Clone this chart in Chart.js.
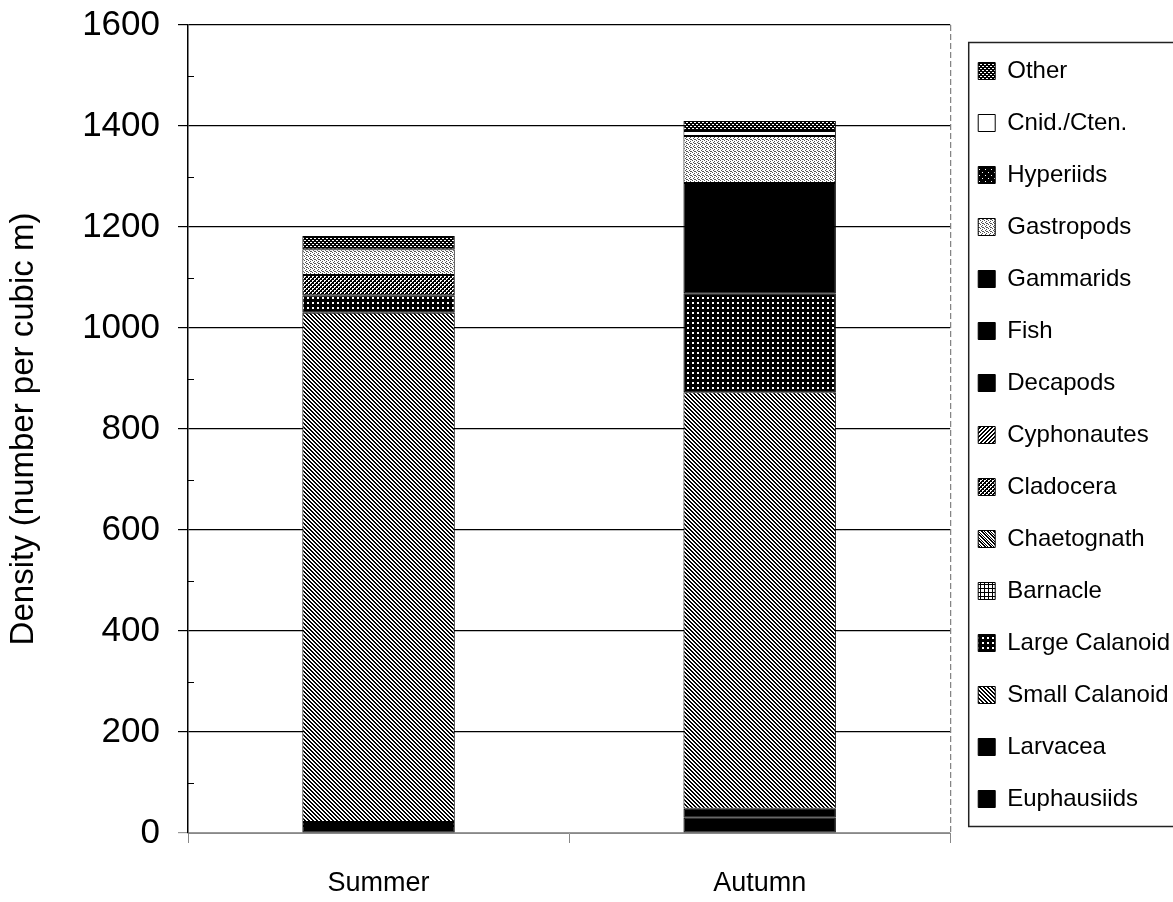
<!DOCTYPE html>
<html>
<head>
<meta charset="utf-8">
<script src="https://cdn.jsdelivr.net/npm/chart.js@4.4.1/dist/chart.umd.min.js"></script>
<style>
  html, body { margin: 0; padding: 0; background: #fff; }
  #wrap { width: 1173px; height: 902px; }
</style>
</head>
<body>
<div id="wrap"><canvas id="c" width="1173" height="902"></canvas></div>
<script>
// Zooplankton density by taxon, stacked per season (number per cubic m)
const seasons = ['Summer', 'Autumn'];
const taxa = ['Euphausiids', 'Larvacea', 'Small Calanoid', 'Large Calanoid', 'Barnacle',
  'Chaetognath', 'Cladocera', 'Cyphonautes', 'Decapods', 'Fish', 'Gammarids',
  'Gastropods', 'Hyperiids', 'Cnid./Cten.', 'Other'];

const euphausiids   = [14, 30];
const larvacea      = [8, 18];
const smallCalanoid = [1008, 825];
const largeCalanoid = [35, 196];
const barnacle      = [0, 0];
const chaetognath   = [0, 0];
const cladocera     = [40, 0];
const cyphonautes   = [0, 0];
const decapods      = [0, 218];
const fish          = [0, 0];
const gammarids     = [0, 0];
const gastropods    = [51, 93];
const hyperiids     = [0, 0];
const cnidCten      = [0, 10];
const other         = [26, 20];

const yTicks = [0, 200, 400, 600, 800, 1000, 1200, 1400, 1600];

const SANS = "'Liberation Sans', Arial, Helvetica, sans-serif";

// Monochrome fill patterns: each tile is a few ink pixels on a plain ground
const ctx = document.getElementById('c').getContext('2d');
function tile(size, ground, ink, cells) {
  const c = document.createElement('canvas');
  c.width = size; c.height = size;
  const g = c.getContext('2d');
  g.fillStyle = ground; g.fillRect(0, 0, size, size);
  g.fillStyle = ink;
  cells.forEach(([x, y]) => g.fillRect(x, y, 1, 1));
  return ctx.createPattern(c, 'repeat');
}
const fills = {
  solid: '#000',
  smallCal: tile(4, '#fff', '#000', [[0,0],[1,0],[1,1],[2,1],[2,2],[3,2],[3,3],[0,3]]),
  largeCal: tile(5, '#000', '#fff', [[2,2],[3,2],[2,3],[3,3]]),
  barnacle: tile(4, '#fff', '#000', [[0,0],[1,0],[2,0],[3,0],[0,1],[0,2],[0,3]]),
  chaet: tile(6, '#fff', '#000', [[0,0],[1,0],[1,1],[2,1],[2,2],[3,2],[3,3],[4,3],[4,4],[5,4],[5,5],[0,5],
                                  [3,0],[4,1],[5,2],[0,3],[1,4],[2,5]]),
  clad: tile(4, '#000', '#fff', [[0,0],[1,0],[0,1],[2,2],[3,2],[2,3]]),
  cyph: tile(4, '#fff', '#000', [[3,0],[2,0],[2,1],[1,1],[1,2],[0,2],[0,3],[3,3]]),
  gastro: tile(4, '#fff', '#555', [[0,0],[2,1],[1,2],[3,3],[2,3]]),
  hyper: tile(6, '#000', '#fff', [[1,1],[4,4]]),
  cnid: '#fff',
  other: tile(4, '#000', '#fff', [[0,0],[1,0],[2,2],[3,2]])
};

const seriesFill = [fills.solid, fills.solid, fills.smallCal, fills.largeCal, fills.barnacle,
  fills.chaet, fills.clad, fills.cyph, fills.solid, fills.solid, fills.solid,
  fills.gastro, fills.hyper, fills.cnid, fills.other];
const seriesValues = [euphausiids, larvacea, smallCalanoid, largeCalanoid, barnacle,
  chaetognath, cladocera, cyphonautes, decapods, fish, gammarids,
  gastropods, hyperiids, cnidCten, other];

const datasets = taxa.map((name, i) => ({
  label: name,
  data: seriesValues[i],
  backgroundColor: seriesFill[i],
  borderColor: '#000',
  borderWidth: 1,
  borderSkipped: false,
  categoryPercentage: 1.0,
  barPercentage: 0.4
}));

// Frame pieces: dashed right edge of the plot, inward minor ticks, legend box
const framePlugin = {
  id: 'frame',
  beforeDatasetsDraw(chart) {
    const { ctx, chartArea: a, scales: { y } } = chart;
    ctx.save();
    ctx.strokeStyle = '#666';
    ctx.lineWidth = 1;
    ctx.setLineDash([6, 3]);
    ctx.beginPath();
    ctx.moveTo(a.right + 0.5, a.top);
    ctx.lineTo(a.right + 0.5, a.bottom);
    ctx.stroke();
    ctx.setLineDash([]);
    ctx.strokeStyle = '#000';
    ctx.beginPath();
    for (let v = 100; v < 1600; v += 200) {
      const py = Math.round(y.getPixelForValue(v)) + 0.5;
      ctx.moveTo(a.left, py);
      ctx.lineTo(a.left + 6, py);
    }
    ctx.stroke();
    ctx.restore();
  },
  afterDraw(chart) {
    const lg = chart.legend;
    if (!lg || !lg.legendHitBoxes || !lg.legendHitBoxes.length) return;
    const hb = lg.legendHitBoxes;
    const first = hb[0], last = hb[hb.length - 1];
    const x0 = first.left - 10;
    const y0 = first.top + first.height / 2 - 29;
    const y1 = last.top + last.height / 2 + 27;
    const c = chart.ctx;
    c.save();
    c.strokeStyle = '#222';
    c.lineWidth = 1.5;
    c.strokeRect(x0 + 0.5, y0 + 0.5, chart.width + 20 - x0, y1 - y0);
    c.restore();
  }
};

new Chart(ctx, {
  type: 'bar',
  data: { labels: seasons, datasets },
  plugins: [framePlugin],
  options: {
    responsive: false,
    animation: false,
    layout: { padding: { top: 25, right: -7, bottom: 0, left: 0 } },
    plugins: {
      tooltip: { enabled: false },
      legend: {
        position: 'right',
        reverse: true,
        fullSize: true,
        align: 'start',
        title: { display: true, text: '', font: { size: 5 }, padding: 0 },
        labels: {
          color: '#000',
          font: { family: SANS, size: 24 },
          boxWidth: 17,
          boxHeight: 17,
          padding: 28
        }
      }
    },
    scales: {
      x: {
        stacked: true,
        afterFit(scale) { scale.height = 69; },
        border: { display: true, color: '#888', width: 1 },
        grid: { display: true, drawOnChartArea: false, drawTicks: true, tickLength: 10, color: '#888', offset: true },
        ticks: { color: '#000', font: { family: SANS, size: 27 }, padding: 24 }
      },
      y: {
        stacked: true,
        min: 0,
        max: 1600,
        afterFit(scale) {
          scale.width = 188;
          scale.paddingTop = 0;
          scale.paddingBottom = 0;
        },
        afterBuildTicks(scale) { scale.ticks = yTicks.map(v => ({ value: v })); },
        border: { display: true, color: '#000', width: 1.5 },
        grid: { color: (c) => (c.tick && c.tick.value === 0 ? '#999' : '#000'), lineWidth: 1.2, tickLength: 10 },
        ticks: {
          color: '#000',
          font: { family: SANS, size: 35 },
          padding: 18,
          callback: (v) => String(v)
        },
        title: {
          display: true,
          text: 'Density (number per cubic m)',
          color: '#000',
          font: { family: SANS, size: 33 },
          padding: { top: 4, bottom: 0 }
        }
      }
    }
  }
});
</script>
</body>
</html>
